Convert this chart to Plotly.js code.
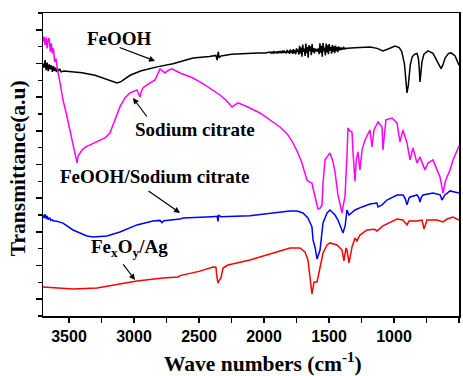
<!DOCTYPE html>
<html>
<head>
<meta charset="utf-8">
<script src="https://cdn.plot.ly/plotly-3.0.1.min.js"></script>
<style>html,body{margin:0;padding:0;background:#fff;}#chart{width:463px;height:376px;}</style>
</head>
<body>
<div id="chart"></div>
<script>
// FeOOH (black)
const feoohWn = [3700,3692,3684,3676,3668,3660,3652,3644,3636,3628,3620,3612,3604,3596,3588,3580,3570,3560,3540,3500,3450,3400,3300,3200,3150,3131,3100,3060,3030,2950,2823,2700,2646,2546,2420,2370,2360,2352,2345,2330,2250,2162,2050,1990,
1960,1954,1948,1942,1936,1930,1924,1918,1912,1906,1900,1894,1888,1882,1876,1870,1864,1858,1852,1846,1840,1834,1828,1822,1816,1810,1804,1798,1792,1786,1780,1774,1768,1762,1756,1750,1744,1738,1732,1726,1720,1714,1708,1702,1696,1690,1684,1678,1672,1666,1660,1654,1648,1642,1636,1630,1624,1618,1612,1606,1600,1594,1588,1582,1576,1570,1564,1558,1552,1546,1540,1534,1528,1522,1516,1510,1504,1498,1492,1486,1480,1474,1468,1462,1456,1450,1444,1438,1432,1426,1420,1414,1408,1402,1396,1390,1384,1378,1372,1366,1360,
1300,1250,1185,1130,1085,1040,992,960,940,920,910,900,890,875,860,840,823,812,805,800,795,785,770,738,700,670,650,638,625,605,580,560,530,500];
const feoohT = [15.0,14.75,15.2,14.6,15.05,14.55,14.95,14.65,14.9,14.5,14.85,14.55,14.75,14.5,14.7,14.55,14.65,14.5,14.55,14.52,14.5,14.45,14.3,14.05,13.88,13.84,13.92,14.15,14.3,14.55,14.8,14.98,15.09,15.33,15.42,15.48,15.2,15.7,15.35,15.45,15.55,15.6,15.62,15.63,
15.64,15.68,15.62,15.67,15.63,15.69,15.62,15.70,15.64,15.68,15.60,15.72,15.65,15.70,15.61,15.74,15.66,15.72,15.62,15.78,15.64,15.71,15.60,15.80,15.66,15.74,15.58,15.83,15.65,15.78,15.57,15.86,15.62,15.80,15.55,15.90,15.68,15.84,15.52,16.05,15.60,15.95,15.40,16.12,15.70,15.88,15.45,16.18,15.62,15.98,15.35,16.10,15.75,16.02,15.50,16.15,15.68,15.92,15.60,15.88,15.72,15.86,15.70,15.90,15.55,16.20,15.65,16.05,15.40,16.22,15.72,15.95,15.48,16.18,15.66,16.08,15.55,16.15,15.76,15.98,15.58,16.10,15.70,16.02,15.62,16.06,15.74,15.98,15.68,16.02,15.78,15.96,15.80,15.94,15.84,15.93,15.86,15.92,15.88,15.91,15.90,
15.94,15.97,15.98,15.9,15.74,15.88,16.04,15.95,15.7,15.0,14.0,13.25,13.7,14.9,15.4,15.55,15.6,15.3,14.6,13.9,14.3,15.1,15.55,15.75,15.6,15.2,14.85,14.7,14.9,15.35,15.6,15.63,15.45,14.9];

// Sodium citrate (magenta)
const citrateWn = [3700,3692,3684,3676,3668,3660,3652,3644,3636,3628,3620,3610,3600,3592,3570,3546,3520,3492,3465,3445,3438,3430,3400,3370,3338,3300,3262,3220,3185,3150,3108,3070,3031,2977,2965,2954,2943,2931,2900,2838,2800,2762,2735,2708,2650,2546,2470,2392,2338,2290,2246,2200,2120,2031,1950,1877,1820,1777,1740,1708,1690,1669,1650,1631,1620,1608,1595,1585,1570,1554,1546,1530,1515,1492,1470,1454,1431,1415,1400,1385,1377,1362,1354,1340,1323,1315,1300,1290,1277,1262,1245,1223,1185,1169,1154,1123,1092,1085,1062,1015,977,954,931,900,877,854,823,800,762,738,700,669,646,623,605,592,569,546,520,500];
const citrateT = [16.3,16.6,16.1,16.55,15.9,16.45,16.5,15.7,16.2,15.6,15.9,15.1,15.3,14.8,13.9,12.83,12.0,11.05,10.0,9.3,9.09,9.5,9.86,10.05,10.16,10.3,10.46,10.6,10.87,11.6,12.42,12.95,13.25,13.43,13.2,13.01,13.35,13.55,13.73,14.02,14.68,14.44,14.6,14.68,14.45,14.14,13.8,13.43,13.13,12.8,12.42,12.66,12.4,12.06,11.65,11.23,10.8,10.28,9.7,9.09,8.6,8.08,7.95,7.9,7.5,7.07,6.7,6.36,6.4,6.6,7.9,9.3,9.45,9.69,9.2,8.56,7.19,6.6,6.12,6.8,7.07,9.5,11.17,11.0,10.93,9.69,8.0,9.3,9.75,8.68,9.9,10.46,11.05,10.04,11.05,11.53,11.23,9.86,11.65,11.76,11.47,10.34,11.05,10.28,9.27,9.98,9.09,9.45,8.68,9.09,9.27,8.68,8.26,7.3,8.0,8.26,8.68,9.27,9.7,10.1];

// FeOOH/Sodium citrate (blue)
const compositeWn = [3700,3692,3684,3676,3668,3660,3650,3640,3630,3620,3600,3580,3546,3469,3400,3362,3315,3260,3208,3108,2977,2854,2800,2785,2770,2646,2623,2400,2360,2354,2348,2330,2108,1900,1800,1746,1700,1662,1640,1631,1623,1608,1592,1569,1546,1515,1492,1454,1431,1410,1392,1375,1369,1362,1346,1300,1246,1185,1131,1123,1092,1054,977,931,915,900,885,877,823,810,800,790,777,700,645,631,615,608,569,500];
const compositeT = [6.0,5.82,6.05,5.78,5.95,5.72,5.85,5.68,5.72,5.64,5.64,5.6,5.52,5.11,4.85,4.75,4.69,4.71,4.75,4.99,5.41,5.64,5.68,5.55,5.66,5.76,5.82,5.9,5.92,5.62,5.98,5.9,5.96,6.15,6.24,6.24,6.12,5.82,5.45,5.29,4.52,4.1,3.39,3.92,5.53,6.12,6.3,6.0,5.7,5.3,4.93,5.4,5.7,6.3,6.0,6.3,6.48,6.65,6.71,6.48,6.6,6.89,7.19,7.19,7.0,6.6,7.0,7.07,7.19,7.05,6.77,7.05,7.19,7.31,7.2,6.89,7.1,7.19,7.43,7.31];

// FexOy/Ag (red)
const agWn = [3700,3600,3469,3285,3085,2977,2777,2660,2646,2500,2392,2370,2362,2354,2345,2331,2315,2277,2108,1900,1800,1723,1685,1662,1646,1638,1631,1622,1615,1592,1569,1546,1515,1492,1438,1400,1385,1369,1362,1346,1323,1300,1285,1262,1208,1150,1131,1085,977,931,900,885,823,785,769,746,669,623,592,546,500];
const agT = [1.72,1.66,1.6,1.66,1.96,2.08,2.26,2.32,2.4,2.65,2.91,2.9,2.32,1.96,2.1,2.26,2.85,3.03,3.33,3.8,4.04,4.04,3.8,3.33,2.32,1.96,1.31,1.7,2.02,2.02,2.85,3.74,4.22,4.34,4.22,3.92,3.27,4.04,3.92,3.15,4.1,4.63,4.46,4.81,5.11,5.15,5.05,5.35,5.76,5.7,5.41,5.64,5.64,5.7,5.17,5.7,5.7,5.59,5.76,5.88,5.7];

const seriesNames = ["FeOOH", "Sodium citrate", "FeOOH/Sodium citrate", "FexOy/Ag"];
const xTitle = 'Wave numbers (cm<sup>-1</sup>)';
const yTitle = 'Transmittance(a.u)';

const lineW = 1.5;
const traces = [
  {x: feoohWn, y: feoohT, name: seriesNames[0], mode: 'lines', line: {color: '#000000', width: lineW}},
  {x: citrateWn, y: citrateT, name: seriesNames[1], mode: 'lines', line: {color: '#FF00FF', width: lineW}},
  {x: compositeWn, y: compositeT, name: seriesNames[2], mode: 'lines', line: {color: '#0000FF', width: lineW}},
  {x: agWn, y: agT, name: seriesNames[3], mode: 'lines', line: {color: '#FF0000', width: lineW}}
];

const serif = {family: 'Liberation Serif, Times New Roman, serif', size: 19, color: '#000', weight: 'bold'};
const titleFont = {family: 'Liberation Serif, Times New Roman, serif', size: 21.5, color: '#000', weight: 'bold'};
const arrowCommon = {showarrow: true, text: '', arrowhead: 2, arrowsize: 1, arrowwidth: 1.2, arrowcolor: '#000', axref: 'pixel', ayref: 'pixel'};

const layout = {
  width: 463, height: 376,
  margin: {l: 43, r: 4, t: 13, b: 60},
  paper_bgcolor: '#fff', plot_bgcolor: '#fff',
  showlegend: false,
  xaxis: {
    range: [3700, 500],
    tick0: 500, dtick: 500,
    ticks: 'outside', ticklen: 5, tickwidth: 1.5, tickcolor: '#000',
    minor: {dtick: 250, ticks: 'outside', ticklen: 5, tickwidth: 1.5, tickcolor: '#000'},
    showline: true, linewidth: 1.5, linecolor: '#000', mirror: true,
    showgrid: false, zeroline: false,
    tickfont: {family: 'Liberation Sans, Arial, sans-serif', size: 16, color: '#000', weight: 'bold'}
  },
  yaxis: {
    range: [0, 18],
    showticklabels: false,
    tick0: 1, dtick: 2,
    ticks: 'outside', ticklen: 6, tickwidth: 1.5, tickcolor: '#000',
    minor: {dtick: 1, ticks: 'outside', ticklen: 4, tickwidth: 1.5, tickcolor: '#000'},
    showline: true, linewidth: 1.5, linecolor: '#000', mirror: true,
    showgrid: false, zeroline: false
  },
  annotations: [
    {xref: 'paper', yref: 'paper', x: 0.529, y: -0.152, xanchor: 'center', yanchor: 'middle', text: xTitle, showarrow: false, font: titleFont},
    {xref: 'paper', yref: 'paper', x: -0.060, y: 0.488, xanchor: 'center', yanchor: 'middle', text: yTitle, textangle: -90, showarrow: false, font: titleFont},
    {x: 3112, y: 16.46, text: 'FeOOH', showarrow: false, font: serif},
    {x: 2527, y: 11.05, text: 'Sodium citrate', showarrow: false, font: serif},
    {x: 2846, y: 8.26, text: 'FeOOH/Sodium citrate', showarrow: false, font: serif},
    {x: 3035, y: 4.04, text: 'Fe<sub>x</sub>O<sub>y</sub>/Ag', showarrow: false, font: serif},
    Object.assign({x: 2838, y: 15.15, ax: -37, ay: -14}, arrowCommon),
    Object.assign({x: 3008, y: 12.95, ax: 15, ay: 20}, arrowCommon),
    Object.assign({x: 2646, y: 6.12, ax: -33, ay: -23}, arrowCommon),
    Object.assign({x: 2992, y: 2.14, ax: -13, ay: -17}, arrowCommon)
  ]
};

Plotly.newPlot('chart', traces, layout, {staticPlot: true, displayModeBar: false});
</script>
</body>
</html>
